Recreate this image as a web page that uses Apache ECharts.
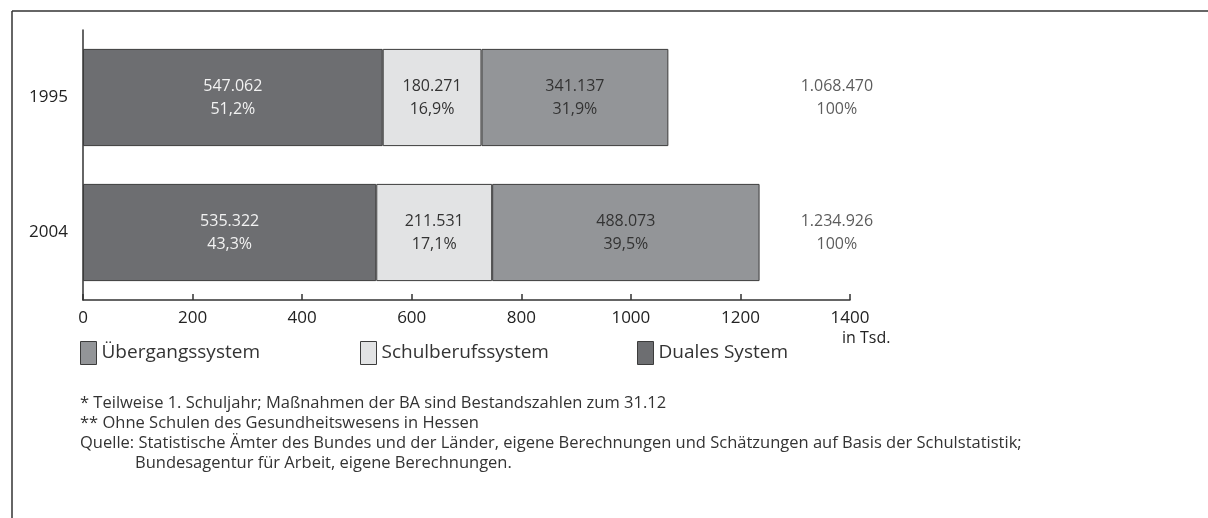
<!DOCTYPE html>
<html>
<head>
<meta charset="utf-8">
<script src="https://cdn.jsdelivr.net/npm/echarts@6/dist/echarts.min.js"></script>
<style>
html,body{margin:0;padding:0;background:#fff;}
#chart{width:1208px;height:518px;}
</style>
</head>
<body>
<div id="chart"></div>
<script>
// Data (values in thousands)
var categories = ['1995', '2004'];
var duales = [547.062, 535.322];
var schulberuf = [180.271, 211.531];
var uebergang = [341.137, 488.073];
var dualesPct = ['51,2%', '43,3%'];
var schulberufPct = ['16,9%', '17,1%'];
var uebergangPct = ['31,9%', '39,5%'];
var totals = [1068.470, 1234.926];
var totalPct = ['100%', '100%'];
var xTicks = [0, 200, 400, 600, 800, 1000, 1200, 1400];
var footnotes = [
  '* Teilweise 1. Schuljahr; Maßnahmen der BA sind Bestandszahlen zum 31.12',
  '** Ohne Schulen des Gesundheitswesens in Hessen',
  'Quelle: Statistische Ämter des Bundes und der Länder, eigene Berechnungen und Schätzungen auf Basis der Schulstatistik;'
];
var footnoteCont = 'Bundesagentur für Arbeit, eigene Berechnungen.';

var FONT = '"Open Sans", "Noto Sans", sans-serif';
var TOTAL_COL = 1376; // label column position on axis scale

function fmt(v) {
  var n = Math.round(v * 1000).toString();
  return n.replace(/\B(?=(\d{3})+(?!\d))/g, '.');
}

var chart = echarts.init(document.getElementById('chart'));

function barSeries(name, data, pcts, color, labelColor) {
  return {
    name: name, type: 'bar', stack: 'total', barWidth: '72%',
    data: data,
    itemStyle: { color: color, borderColor: '#3c3c3c', borderWidth: 1 },
    label: {
      show: true, position: 'inside', color: labelColor,
      fontFamily: FONT, fontSize: 16, lineHeight: 23,
      formatter: function (p) { return fmt(p.value) + '\n' + pcts[p.dataIndex]; }
    },
    emphasis: { disabled: true }
  };
}

var totalData = totals.map(function (t, i) { return [TOTAL_COL, i]; });

var legendBase = {
  itemWidth: 16, itemHeight: 23, icon: 'rect',
  textStyle: { fontFamily: FONT, fontSize: 19, color: '#333' },
  selectedMode: false, top: 336
};

chart.setOption({
  animation: false,
  grid: { left: 83, right: 358, top: 30, bottom: 218 },
  xAxis: {
    type: 'value', min: 0, max: 1400, interval: 200,
    axisLine: { show: true, lineStyle: { color: '#333', width: 1.5 } },
    axisTick: { show: true, inside: true, length: 6, lineStyle: { color: '#333', width: 1.5 } },
    splitLine: { show: false },
    axisLabel: { color: '#222', fontFamily: FONT, fontSize: 17, margin: 10,
      formatter: function (v) { return xTicks.indexOf(v) >= 0 ? String(v) : ''; } }
  },
  yAxis: {
    type: 'category', data: categories, inverse: true,
    axisLine: { show: true, lineStyle: { color: '#333', width: 1.5 } },
    axisTick: { show: false },
    axisLabel: { color: '#222', fontFamily: FONT, fontSize: 17, margin: 15 }
  },
  legend: [
    Object.assign({}, legendBase, { left: 75, data: [{ name: 'Übergangssystem', itemStyle: { color: '#939598', borderColor: '#3c3c3c', borderWidth: 1 } }] }),
    Object.assign({}, legendBase, { left: 355, data: [{ name: 'Schulberufssystem', itemStyle: { color: '#e2e3e4', borderColor: '#3c3c3c', borderWidth: 1 } }] }),
    Object.assign({}, legendBase, { left: 632, data: [{ name: 'Duales System', itemStyle: { color: '#6d6e71', borderColor: '#3c3c3c', borderWidth: 1 } }] })
  ],
  series: [
    barSeries('Duales System', duales, dualesPct, '#6d6e71', '#f2f2f2'),
    barSeries('Schulberufssystem', schulberuf, schulberufPct, '#e2e3e4', '#333'),
    barSeries('Übergangssystem', uebergang, uebergangPct, '#939598', '#333'),
    {
      type: 'scatter', symbolSize: 0, data: totalData, silent: true,
      label: {
        show: true, position: 'inside', color: '#333',
        fontFamily: FONT, fontSize: 16, lineHeight: 23,
        formatter: function (p) { return fmt(totals[p.dataIndex]) + '\n' + totalPct[p.dataIndex]; }
      }
    }
  ],
  graphic: [
    { type: 'line', shape: { x1: 12, y1: 11, x2: 1208, y2: 11 }, style: { stroke: '#333', lineWidth: 1.5 } },
    { type: 'line', shape: { x1: 12, y1: 11, x2: 12, y2: 518 }, style: { stroke: '#333', lineWidth: 1.5 } },
    { type: 'text', left: 842, top: 330, style: { text: 'in Tsd.', font: '16px ' + FONT, fill: '#222' } },
    { type: 'text', left: 80, top: 395, style: { text: footnotes[0], font: '16.5px ' + FONT, fill: '#333' } },
    { type: 'text', left: 80, top: 415, style: { text: footnotes[1], font: '16.5px ' + FONT, fill: '#333' } },
    { type: 'text', left: 80, top: 435, style: { text: footnotes[2], font: '16.5px ' + FONT, fill: '#333' } },
    { type: 'text', left: 135, top: 455, style: { text: footnoteCont, font: '16.5px ' + FONT, fill: '#333' } }
  ]
});
</script>
</body>
</html>
